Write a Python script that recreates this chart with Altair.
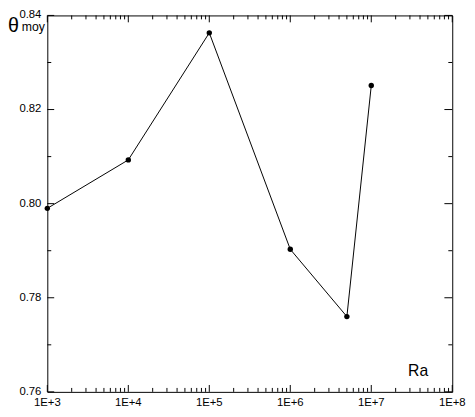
import altair as alt
import pandas as pd

ra = [1e3, 1e4, 1e5, 1e6, 5e6, 1e7]
theta = [0.7990, 0.8093, 0.8363, 0.7903, 0.7760, 0.8251]

x_major = [1e3, 1e4, 1e5, 1e6, 1e7, 1e8]
x_labels = ["1E+3", "1E+4", "1E+5", "1E+6", "1E+7", "1E+8"]
x_minor = [m * 10 ** e for e in range(3, 8) for m in range(2, 10)]
y_major = [0.76, 0.78, 0.80, 0.82, 0.84]
y_labels = ["0.76", "0.78", "0.80", "0.82", "0.84"]
y_minor = [0.77, 0.79, 0.81, 0.83]

df = pd.DataFrame({"Ra": ra, "theta": theta})

FONT = "Liberation Sans"
W, H = 412, 383
xscale = alt.Scale(type="log", domain=[1e3, 1e8], nice=False)
yscale = alt.Scale(domain=[0.76, 0.84], nice=False, zero=False)

line = alt.Chart(df).mark_line(color="black", strokeWidth=1).encode(
    x=alt.X("Ra:Q", scale=xscale, axis=None),
    y=alt.Y("theta:Q", scale=yscale, axis=None),
)

pts = alt.Chart(df).mark_circle(color="black", size=30, opacity=1).encode(
    x=alt.X("Ra:Q", scale=xscale, axis=None),
    y=alt.Y("theta:Q", scale=yscale, axis=None),
)


def xticks(values, y0, y1):
    return alt.Chart(pd.DataFrame({"v": values})).mark_rule(
        color="black", strokeWidth=1).encode(
        x=alt.X("v:Q", scale=xscale, axis=None),
        y=alt.value(y0), y2=alt.value(y1))


def yticks(values, x0, x1):
    return alt.Chart(pd.DataFrame({"v": values})).mark_rule(
        color="black", strokeWidth=1).encode(
        y=alt.Y("v:Q", scale=yscale, axis=None),
        x=alt.value(x0), x2=alt.value(x1))


ticks = [
    xticks(x_major, H, H - 7), xticks(x_minor, H, H - 4),
    xticks(x_major, 0, 7), xticks(x_minor, 0, 4),
    yticks(y_major, 0, 7), yticks(y_minor, 0, 4),
    yticks(y_major, W, W - 8), yticks(y_minor, W, W - 4),
]

xlab = alt.Chart(pd.DataFrame({"v": x_major, "t": x_labels})).mark_text(
    font=FONT, fontSize=11.5, align="center", baseline="middle", color="black"
).encode(x=alt.X("v:Q", scale=xscale, axis=None), y=alt.value(H + 11),
         text="t:N")

ylab = alt.Chart(pd.DataFrame({"v": y_major, "t": y_labels})).mark_text(
    font=FONT, fontSize=11.5, align="right", baseline="middle", color="black"
).encode(y=alt.Y("v:Q", scale=yscale, axis=None), x=alt.value(-6),
         text="t:N")

theta_lbl = alt.Chart(pd.DataFrame({"t": ["θ"]})).mark_text(
    font=FONT, fontSize=20, align="left", baseline="alphabetic", color="black"
).encode(text="t:N", x=alt.value(-40), y=alt.value(17))

moy_lbl = alt.Chart(pd.DataFrame({"t": ["moy"]})).mark_text(
    font=FONT, fontSize=12.5, align="left", baseline="alphabetic", color="black"
).encode(text="t:N", x=alt.value(-26), y=alt.value(16))

ra_lbl = alt.Chart(pd.DataFrame({"t": ["Ra"]})).mark_text(
    font=FONT, fontSize=16, align="left", baseline="alphabetic", color="black"
).encode(text="t:N", x=alt.value(367), y=alt.value(367))

chart = alt.layer(line, pts, *ticks, xlab, ylab, theta_lbl, moy_lbl, ra_lbl).properties(
    width=W, height=H,
    autosize=alt.AutoSizeParams(type="none"),
    padding={"left": 40, "top": 4, "right": 15, "bottom": 22},
).configure_view(stroke="black", strokeWidth=1)

chart.save("out.html", embed_options={"renderer": "svg", "actions": False})
